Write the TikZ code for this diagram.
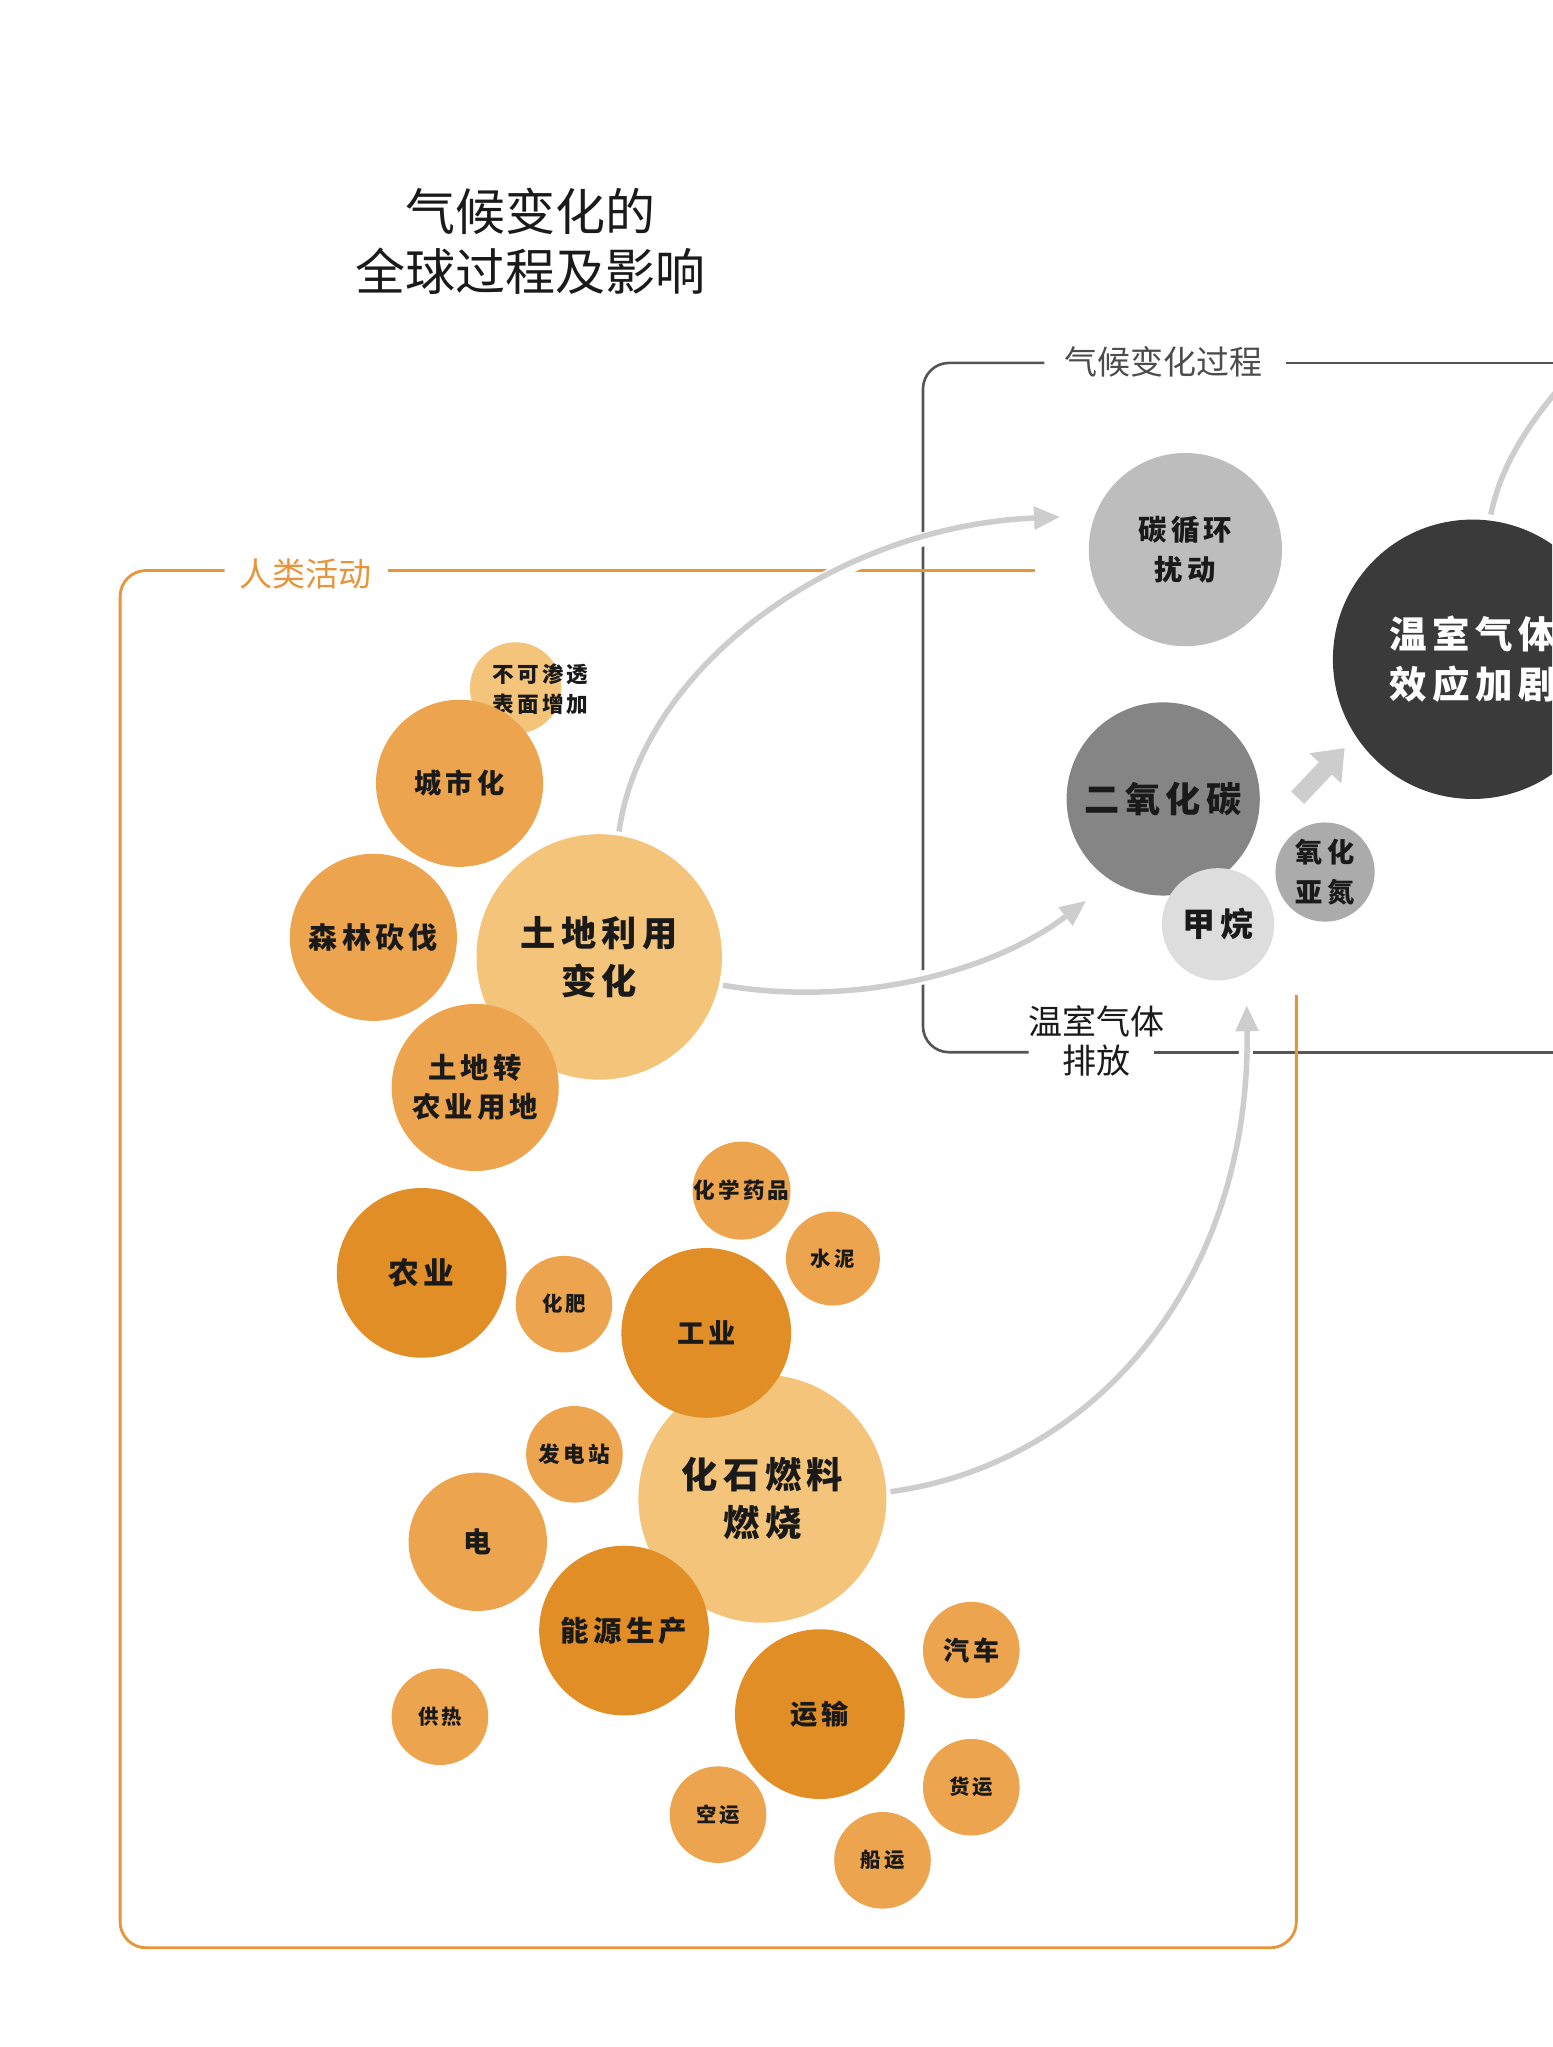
\documentclass[tikz,border=0pt]{standalone}
\usepackage{fontspec}
\usetikzlibrary{arrows.meta}
\newfontfamily\cjk{Noto Sans CJK SC}
\newfontfamily\cjkb{Noto Sans CJK SC}[LetterSpace=15]
\definecolor{lightor}{HTML}{F3C47A}
\definecolor{medor}{HTML}{ECA54E}
\definecolor{darkor}{HTML}{E08E25}
\definecolor{boxor}{HTML}{E8943A}
\definecolor{boxgray}{HTML}{555555}
\definecolor{flowgray}{HTML}{CDCDCD}
\definecolor{gcarbon}{HTML}{BDBDBD}
\definecolor{gghg}{HTML}{3A3A3A}
\definecolor{gco}{HTML}{858585}
\definecolor{gch}{HTML}{DDDDDD}
\definecolor{gno}{HTML}{ABABAB}
\definecolor{ink}{HTML}{1A1A1A}
\pgfdeclarelayer{bg}
\pgfsetlayers{bg,main}
\newcommand\lbl[2]{\cjkb\bfseries\fontsize{#1}{#2}\selectfont}
\begin{document}
\begin{tikzpicture}[x=1.3053pt,y=-1.3053pt,
  bub/.style={circle, inner sep=0pt, minimum size=#1*2.6106pt, align=center, text=ink},
  lo/.style={fill=lightor}, mo/.style={fill=medor}, dko/.style={fill=darkor},
  graybox/.style={draw=boxgray, line width=2.6pt, rounded corners=26pt},
  orangebox/.style={draw=boxor, line width=2.8pt, rounded corners=26pt},
  flow/.style={draw=flowgray, line width=5.5pt, -{Triangle[length=26pt,width=22pt]},
     preaction={draw=white, line width=14pt, -}},
  flowline/.style={draw=flowgray, line width=5.5pt},
  fat/.style={draw=flowgray, line width=18pt, -{Triangle[length=28pt,width=42pt]}}
]
\useasboundingbox (0,0) rectangle (1189,1568);
\clip (0,0) rectangle (1189,1568);

% title and labels
\node[font=\cjk\fontsize{50}{60}\selectfont, align=center, text=ink] (title) at (406,185) {气候变化的\\全球过程及影响};
\node[font=\cjk\fontsize{33}{40}\selectfont, text=boxgray!90!black] (proclabel) at (891,277) {气候变化过程};
\node[font=\cjk\fontsize{33}{40}\selectfont, text=boxor] (humlabel) at (234,440) {人类活动};
\node[font=\cjk\fontsize{34}{39}\selectfont, align=center, text=ink] (emislabel) at (840,797) {温室气体\\排放};

% light circles
\node[bub=35, lo] (imperv) at (395,527) {};
\node[font=\lbl{21.6}{30}, align=center, text=ink] (impervtext) at (414,528) {不可渗透\\表面增加};
\node[bub=94, lo, font=\lbl{35.2}{48.3}] (landuse) at (459,733) {土地利用\\变化};
\node[bub=95, lo, font=\lbl{36.3}{48.3}] (fossil) at (584,1148) {化石燃料\\燃烧};

% medium circles
\node[bub=64, mo, font=\lbl{27.2}{35}] (urban) at (352,600) {城市化};
\node[bub=64, mo, font=\lbl{29}{35}] (forest) at (286,718) {森林砍伐};
\node[bub=64, mo, font=\lbl{28.4}{39}] (agriland) at (364,833) {土地转\\农业用地};
\node[bub=37, mo, font=\lbl{21.6}{28}] (chem) at (568,912) {化学药品};
\node[bub=36, mo, font=\lbl{20.4}{28}] (cement) at (638,964) {水泥};
\node[bub=37, mo, font=\lbl{20.4}{28}] (fert) at (432,999) {化肥};
\node[bub=37, mo, font=\lbl{21.6}{28}] (plant) at (440,1114) {发电站};
\node[bub=53, mo, font=\lbl{28}{34}] (elec) at (366,1181) {电};
\node[bub=37, mo, font=\lbl{20.4}{28}] (heat) at (337,1315) {供热};
\node[bub=37, mo, font=\lbl{26.1}{30}] (car) at (744,1264) {汽车};
\node[bub=37, mo, font=\lbl{20.4}{28}] (freight) at (744,1369) {货运};
\node[bub=37, mo, font=\lbl{20.4}{28}] (air) at (550,1390) {空运};
\node[bub=37, mo, font=\lbl{20.4}{28}] (ship) at (676,1425) {船运};

% dark circles
\node[bub=65, dko, font=\lbl{30.6}{36}] (agri) at (323,975) {农业};
\node[bub=65, dko, font=\lbl{27.2}{34}] (industry) at (541,1021) {工业};
\node[bub=65, dko, font=\lbl{28.4}{34}] (energy) at (478,1249) {能源生产};
\node[bub=65, dko, font=\lbl{27.2}{34}] (transport) at (628,1313) {运输};

% gray circles
\node[bub=74, fill=gcarbon, font=\lbl{28.4}{40.5}] (carbon) at (908,421) {碳循环\\扰动};
\node[bub=107, fill=gghg, text=white, font=\lbl{37.5}{49.6}] (ghg) at (1128,505) {温室气体\\效应加剧};
\node[bub=74, fill=gco, font=\lbl{35.2}{40}] (co2) at (891,612) {二氧化碳};
\node[bub=43, fill=gch, font=\lbl{32.9}{38}] (ch4) at (933,708) {甲烷};
\node[bub=38, fill=gno, font=\lbl{27.2}{40.5}] (n2o) at (1015,668) {氧化\\亚氮};

\coordinate (a1end) at (812,396);
\coordinate (a2end) at (832,690);
\coordinate (a3end) at (955,770);
\coordinate (fattail) at (994,611);
\coordinate (fattip) at (1030,573);
\coordinate (ghgout) at (1205,285);

\begin{pgfonlayer}{bg}
  \fill[white] (0,0) rectangle (1189,1568);
  \draw[graybox] (800,278) -- (707,278) -- (707,806) -- (788,806);
  \draw[graybox] (985,278) -- (1200,278);
  \draw[graybox] (884,806) -- (1200,806);
  \draw[orangebox] (172,437) -- (92,437) -- (92,1492) -- (993,1492) -- (993,762);
  \draw[orangebox] (297,437) -- (793,437);
  \draw[flow, shorten <=4pt] (landuse.81) .. controls (492,510) and (640,403) .. (a1end);
  \draw[flow, shorten <=4pt] (landuse.-13) .. controls (655,772) and (760,745) .. (a2end);
  \draw[flow, shorten <=4pt] (fossil.3) .. controls (835,1122) and (958,985) .. (a3end);
  \draw[fat] (fattail) -- (fattip);
  \draw[flowline, shorten <=6pt] (ghg.83) .. controls (1150,355) and (1172,322) .. (ghgout);
\end{pgfonlayer}
\end{tikzpicture}
\end{document}
